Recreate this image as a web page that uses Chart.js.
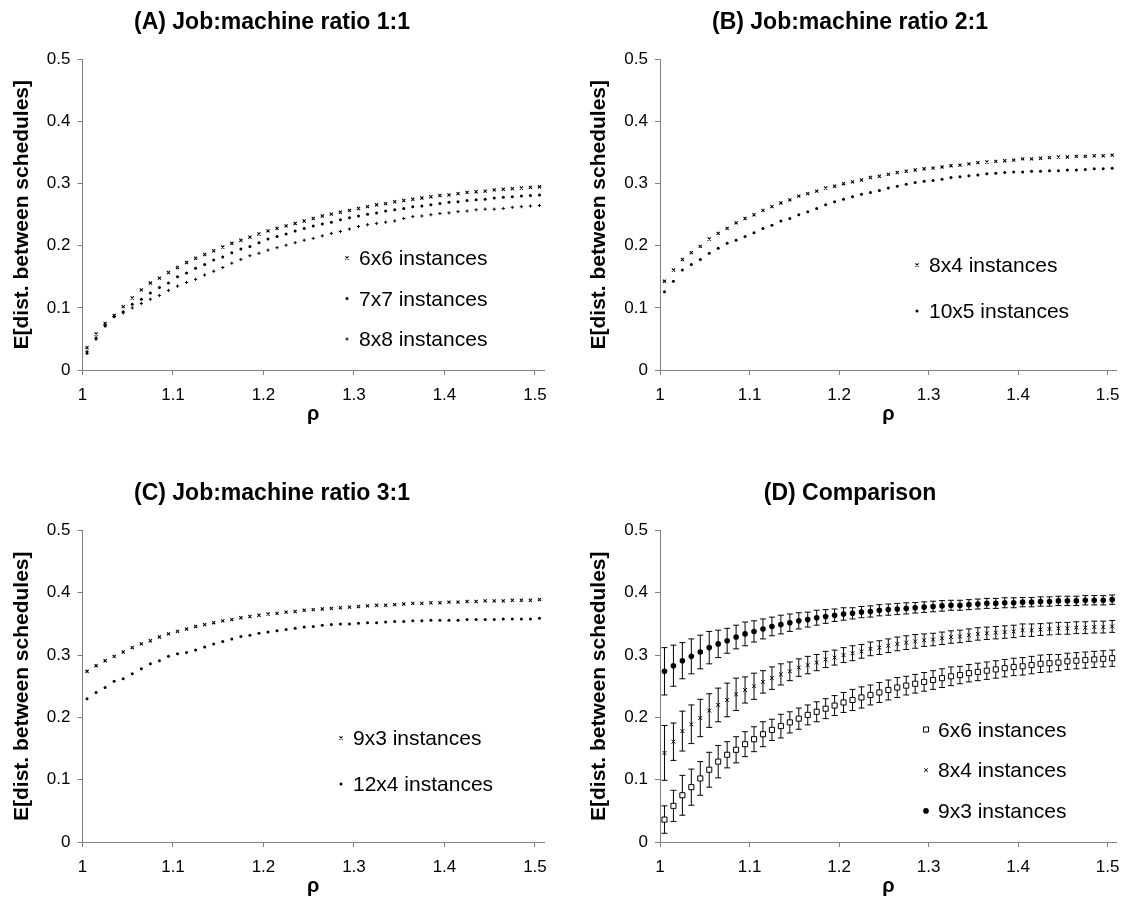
<!DOCTYPE html>
<html>
<head>
<meta charset="utf-8">
<script src="https://cdn.jsdelivr.net/npm/chart.js@4.4.1/dist/chart.umd.min.js"></script>
<style>
  html, body { margin: 0; padding: 0; background: #fff; }
  body { position: relative; width: 1130px; height: 907px; overflow: hidden; }
  canvas { position: absolute; }
</style>
</head>
<body>
<canvas id="panelA" width="578" height="460" style="left:0px;top:0px"></canvas>
<canvas id="panelB" width="550" height="460" style="left:580px;top:0px"></canvas>
<canvas id="panelC" width="578" height="436" style="left:0px;top:471px"></canvas>
<canvas id="panelD" width="550" height="436" style="left:580px;top:471px"></canvas>
<script>
// rho values (x) shared by every series
const rho = [1.005, 1.015, 1.025, 1.035, 1.045, 1.055, 1.065, 1.075, 1.085, 1.095,
  1.105, 1.115, 1.125, 1.135, 1.145, 1.155, 1.165, 1.175, 1.185, 1.195,
  1.205, 1.215, 1.225, 1.235, 1.245, 1.255, 1.265, 1.275, 1.285, 1.295,
  1.305, 1.315, 1.325, 1.335, 1.345, 1.355, 1.365, 1.375, 1.385, 1.395,
  1.405, 1.415, 1.425, 1.435, 1.445, 1.455, 1.465, 1.475, 1.485, 1.495,
  1.505];

const xTicks = [1, 1.1, 1.2, 1.3, 1.4, 1.5];
const xTickLabels = ['1', '1.1', '1.2', '1.3', '1.4', '1.5'];
const yTicks = [0, 0.1, 0.2, 0.3, 0.4, 0.5];
const yTickLabels = ['0', '0.1', '0.2', '0.3', '0.4', '0.5'];

const d6x6 = [0.036, 0.058, 0.075, 0.088, 0.102, 0.116, 0.129, 0.140, 0.148, 0.157,
  0.165, 0.173, 0.180, 0.186, 0.192, 0.198, 0.204, 0.209, 0.214, 0.219,
  0.224, 0.228, 0.232, 0.236, 0.240, 0.244, 0.248, 0.251, 0.254, 0.257,
  0.260, 0.263, 0.266, 0.268, 0.271, 0.273, 0.275, 0.277, 0.279, 0.281,
  0.282, 0.284, 0.286, 0.287, 0.288, 0.290, 0.291, 0.292, 0.293, 0.294,
  0.295];
const d7x7 = [0.027, 0.050, 0.071, 0.086, 0.094, 0.106, 0.114, 0.124, 0.133, 0.140,
  0.150, 0.156, 0.164, 0.170, 0.177, 0.182, 0.189, 0.195, 0.199, 0.205,
  0.211, 0.215, 0.219, 0.224, 0.228, 0.232, 0.235, 0.238, 0.242, 0.245,
  0.248, 0.251, 0.253, 0.256, 0.258, 0.260, 0.263, 0.264, 0.266, 0.268,
  0.270, 0.271, 0.273, 0.274, 0.275, 0.277, 0.278, 0.279, 0.280, 0.281,
  0.282];
const d8x8 = [0.030, 0.052, 0.072, 0.086, 0.092, 0.100, 0.107, 0.114, 0.120, 0.128,
  0.135, 0.141, 0.146, 0.153, 0.159, 0.165, 0.172, 0.178, 0.184, 0.188,
  0.193, 0.197, 0.201, 0.205, 0.209, 0.212, 0.216, 0.220, 0.223, 0.227,
  0.231, 0.234, 0.236, 0.238, 0.240, 0.244, 0.247, 0.248, 0.250, 0.252,
  0.253, 0.255, 0.256, 0.258, 0.259, 0.259, 0.260, 0.262, 0.263, 0.264,
  0.265];
const d8x4 = [0.143, 0.161, 0.178, 0.189, 0.199, 0.211, 0.220, 0.228, 0.237, 0.244,
  0.250, 0.257, 0.263, 0.269, 0.274, 0.280, 0.284, 0.288, 0.293, 0.296,
  0.300, 0.303, 0.306, 0.310, 0.312, 0.315, 0.318, 0.320, 0.322, 0.324,
  0.325, 0.327, 0.329, 0.330, 0.332, 0.334, 0.335, 0.336, 0.337, 0.338,
  0.340, 0.340, 0.341, 0.342, 0.343, 0.343, 0.344, 0.344, 0.345, 0.345,
  0.346];
const d10x5 = [0.126, 0.143, 0.161, 0.170, 0.178, 0.188, 0.196, 0.204, 0.209, 0.215,
  0.221, 0.228, 0.233, 0.240, 0.244, 0.250, 0.255, 0.260, 0.266, 0.271,
  0.275, 0.279, 0.283, 0.286, 0.289, 0.293, 0.296, 0.299, 0.302, 0.304,
  0.305, 0.307, 0.310, 0.311, 0.313, 0.314, 0.316, 0.317, 0.318, 0.319,
  0.319, 0.320, 0.320, 0.321, 0.321, 0.322, 0.322, 0.323, 0.324, 0.324,
  0.325];
const d9x3 = [0.274, 0.283, 0.291, 0.298, 0.305, 0.312, 0.318, 0.323, 0.329, 0.334,
  0.338, 0.342, 0.346, 0.349, 0.352, 0.355, 0.357, 0.360, 0.362, 0.364,
  0.366, 0.367, 0.369, 0.370, 0.372, 0.373, 0.374, 0.375, 0.376, 0.377,
  0.378, 0.379, 0.380, 0.380, 0.381, 0.382, 0.383, 0.383, 0.384, 0.384,
  0.385, 0.385, 0.386, 0.386, 0.387, 0.387, 0.387, 0.388, 0.388, 0.388,
  0.389];
const d12x4 = [0.230, 0.240, 0.248, 0.258, 0.262, 0.270, 0.278, 0.286, 0.291, 0.298,
  0.302, 0.304, 0.308, 0.313, 0.318, 0.322, 0.326, 0.330, 0.332, 0.335,
  0.337, 0.339, 0.341, 0.343, 0.345, 0.346, 0.348, 0.349, 0.350, 0.350,
  0.351, 0.352, 0.352, 0.353, 0.354, 0.354, 0.355, 0.355, 0.356, 0.356,
  0.356, 0.356, 0.357, 0.357, 0.357, 0.357, 0.358, 0.358, 0.358, 0.358,
  0.359];

// half-length of the error bars in panel D
const err6x6 = [0.022, 0.025, 0.032, 0.029, 0.027, 0.028, 0.026, 0.021, 0.021, 0.020,
  0.020, 0.020, 0.017, 0.019, 0.017, 0.017, 0.016, 0.016, 0.016, 0.016,
  0.016, 0.017, 0.017, 0.016, 0.016, 0.016, 0.016, 0.015, 0.015, 0.015,
  0.015, 0.015, 0.015, 0.014, 0.014, 0.014, 0.014, 0.014, 0.014, 0.014,
  0.014, 0.014, 0.014, 0.014, 0.013, 0.013, 0.013, 0.013, 0.013, 0.013,
  0.013];
const err8x4 = [0.044, 0.030, 0.032, 0.031, 0.030, 0.027, 0.027, 0.027, 0.026, 0.021,
  0.021, 0.018, 0.018, 0.017, 0.015, 0.014, 0.014, 0.013, 0.013, 0.012,
  0.012, 0.012, 0.011, 0.011, 0.011, 0.011, 0.011, 0.011, 0.011, 0.010,
  0.010, 0.010, 0.010, 0.010, 0.010, 0.010, 0.010, 0.010, 0.010, 0.010,
  0.010, 0.010, 0.0095, 0.0095, 0.0095, 0.0095, 0.0095, 0.0095, 0.0095, 0.0095,
  0.0095];
const err9x3 = [0.038, 0.033, 0.029, 0.028, 0.027, 0.026, 0.022, 0.020, 0.019, 0.019,
  0.017, 0.016, 0.015, 0.015, 0.014, 0.013, 0.012, 0.012, 0.011, 0.010,
  0.010, 0.009, 0.009, 0.009, 0.009, 0.009, 0.009, 0.009, 0.0085, 0.0085,
  0.0085, 0.0085, 0.008, 0.008, 0.008, 0.008, 0.008, 0.008, 0.008, 0.008,
  0.0075, 0.0075, 0.0075, 0.0075, 0.0075, 0.0075, 0.0075, 0.0075, 0.0075, 0.0075,
  0.0075];

const AXIS = '#808080';
const FONT = '"Liberation Sans", Arial, Helvetica, sans-serif';
Chart.defaults.font.family = FONT;
Chart.defaults.color = '#000';

function series(label, values, style, errors) {
  return Object.assign({
    label: label,
    data: values.map((v, i) => ({ x: rho[i], y: v })),
    errors: errors || null,
    showLine: false,
    pointBorderColor: '#000',
    pointBackgroundColor: '#000',
    pointHoverRadius: 0
  }, style);
}

const smallX = { pointStyle: 'crossRot', pointRadius: 2.2, pointBorderWidth: 1.1 };
const smallDot = { pointStyle: 'circle', pointRadius: 1.5, pointBorderWidth: 0 };
const smallPlus = { pointStyle: 'cross', pointRadius: 1.6, pointBorderWidth: 1 };
const bigSquare = { pointStyle: 'rect', pointRadius: 3.6, pointBorderWidth: 1, pointBackgroundColor: '#fff' };
const bigX = { pointStyle: 'crossRot', pointRadius: 2.7, pointBorderWidth: 1 };
const bigDot = { pointStyle: 'circle', pointRadius: 2.8, pointBorderWidth: 0 };

// vertical error bars with caps, drawn under the points
const errorBars = {
  id: 'errorBars',
  beforeDatasetsDraw(chart) {
    const { ctx, scales: { x, y } } = chart;
    ctx.save();
    ctx.strokeStyle = '#000';
    ctx.lineWidth = 1;
    chart.data.datasets.forEach(ds => {
      if (!ds.errors) return;
      ds.data.forEach((p, i) => {
        const px = x.getPixelForValue(p.x);
        const top = y.getPixelForValue(p.y + ds.errors[i]);
        const bot = y.getPixelForValue(p.y - ds.errors[i]);
        ctx.beginPath();
        ctx.moveTo(px, top); ctx.lineTo(px, bot);
        ctx.moveTo(px - 3, top); ctx.lineTo(px + 3, top);
        ctx.moveTo(px - 3, bot); ctx.lineTo(px + 3, bot);
        ctx.stroke();
      });
    });
    ctx.restore();
  }
};

// legend drawn inside the plot area
const insetLegend = {
  id: 'insetLegend',
  afterDatasetsDraw(chart, args, opts) {
    const ctx = chart.ctx;
    ctx.save();
    chart.data.datasets.forEach((ds, i) => {
      const base = opts.top + i * opts.gap;
      ctx.fillStyle = ds.pointBackgroundColor;
      ctx.strokeStyle = ds.pointBorderColor;
      ctx.lineWidth = ds.pointBorderWidth;
      Chart.helpers.drawPoint(ctx, {
        pointStyle: ds.pointStyle, radius: ds.pointRadius,
        borderWidth: ds.pointBorderWidth, rotation: 0
      }, opts.x, base - 7);
      ctx.fillStyle = '#000';
      ctx.font = '21px ' + FONT;
      ctx.textBaseline = 'alphabetic';
      ctx.fillText(ds.label, opts.x + 12, base);
    });
    ctx.restore();
  }
};

function makeChart(id, o) {
  new Chart(document.getElementById(id), {
    type: 'scatter',
    data: { datasets: o.datasets },
    options: {
      responsive: false,
      devicePixelRatio: 1,
      animation: false,
      events: [],
      layout: { padding: { left: 0, right: o.padRight, top: 0, bottom: o.padBottom } },
      plugins: {
        legend: { display: false },
        tooltip: { enabled: false },
        title: {
          display: true, text: o.title, color: '#000',
          font: { size: 23, weight: 'bold' },
          padding: { top: 8.5, bottom: 23.4 }
        },
        insetLegend: o.legend
      },
      scales: {
        x: {
          type: 'linear', min: 1, max: 1.51,
          afterFit: s => { s.height = 56.7; },
          afterBuildTicks: s => { s.ticks = xTicks.map(v => ({ value: v })); },
          ticks: {
            callback: (v, i) => xTickLabels[i],
            font: { size: 17 }, color: '#000', padding: 10.3,
            maxRotation: 0, autoSkip: false
          },
          grid: { drawOnChartArea: false, color: AXIS, tickLength: 5 },
          border: { color: AXIS, width: 1 },
          title: {
            display: true, text: 'ρ', color: '#000',
            font: { size: 20, weight: 'bold' }, padding: { top: 0, bottom: 0 }
          }
        },
        y: {
          type: 'linear', min: 0, max: 0.5,
          afterFit: s => { s.width = o.yWidth; },
          afterBuildTicks: s => { s.ticks = yTicks.map(v => ({ value: v })); },
          ticks: {
            callback: (v, i) => yTickLabels[i],
            font: { size: 17 }, color: '#000', padding: 7
          },
          grid: { drawOnChartArea: false, color: AXIS, tickLength: 5 },
          border: { color: AXIS, width: 1 },
          title: {
            display: true, text: 'E[dist. between schedules]', color: '#000',
            font: { size: 21, weight: 'bold' }, padding: { top: o.yTitlePad, bottom: 0 }
          }
        }
      }
    },
    plugins: [errorBars, insetLegend]
  });
}

makeChart('panelA', {
  title: '(A) Job:machine ratio 1:1',
  padRight: 34, padBottom: 33.3, yWidth: 82.5, yTitlePad: 9.4,
  legend: { x: 347, top: 265, gap: 40.5 },
  datasets: [
    series('6x6 instances', d6x6, smallX),
    series('7x7 instances', d7x7, smallDot),
    series('8x8 instances', d8x8, smallPlus)
  ]
});

makeChart('panelB', {
  title: '(B) Job:machine ratio 2:1',
  padRight: 10, padBottom: 33.3, yWidth: 80, yTitlePad: 6.9,
  legend: { x: 337, top: 272, gap: 46 },
  datasets: [
    series('8x4 instances', d8x4, smallX),
    series('10x5 instances', d10x5, smallDot)
  ]
});

makeChart('panelC', {
  title: '(C) Job:machine ratio 3:1',
  padRight: 34, padBottom: 8.3, yWidth: 82.5, yTitlePad: 9.4,
  legend: { x: 341, top: 274, gap: 46 },
  datasets: [
    series('9x3 instances', d9x3, smallX),
    series('12x4 instances', d12x4, smallDot)
  ]
});

makeChart('panelD', {
  title: '(D) Comparison',
  padRight: 10, padBottom: 8.3, yWidth: 80, yTitlePad: 6.9,
  legend: { x: 346, top: 265.5, gap: 40.7 },
  datasets: [
    series('6x6 instances', d6x6, bigSquare, err6x6),
    series('8x4 instances', d8x4, bigX, err8x4),
    series('9x3 instances', d9x3, bigDot, err9x3)
  ]
});
</script>
</body>
</html>
